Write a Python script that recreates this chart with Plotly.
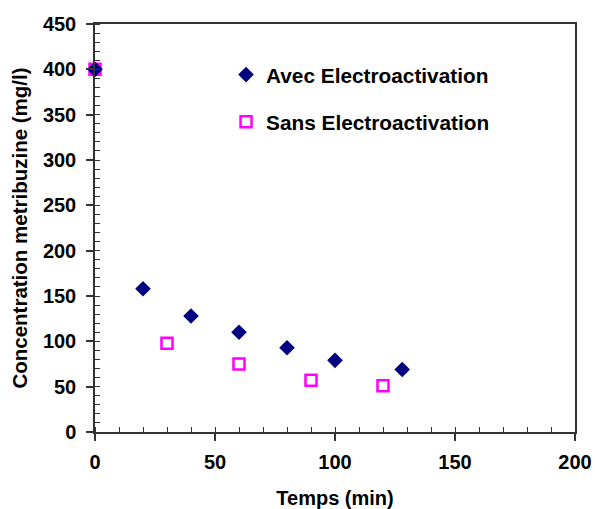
import plotly.graph_objects as go

avec_x = [0, 20, 40, 60, 80, 100, 128]
avec_y = [400, 158, 128, 110, 93, 79, 69]
sans_x = [0, 30, 60, 90, 120]
sans_y = [400, 98, 75, 57, 51]

names = ["Avec Electroactivation", "Sans Electroactivation"]
x_title = "Temps (min)"
y_title = "Concentration metribuzine (mg/l)"

FONT = "Liberation Sans, Arial, sans-serif"

fig = go.Figure()
fig.add_trace(go.Scatter(
    x=sans_x, y=sans_y, mode="markers", name=names[1], legendgroup="b", legendrank=2,
    cliponaxis=False,
    marker=dict(symbol="square-open", size=11, color="#FF00FF", line=dict(width=2.5, color="#FF00FF")),
))
fig.add_trace(go.Scatter(
    x=avec_x, y=avec_y, mode="markers", name=names[0], legendgroup="a", legendrank=1,
    cliponaxis=False,
    marker=dict(symbol="diamond", size=12, color="#000080"),
))

axis_common = dict(
    showgrid=False, zeroline=False, showline=True, linecolor="#333333", linewidth=1.5,
    mirror=True, ticks="outside", ticklen=7, tickwidth=1.5, tickcolor="#333333",
    automargin=False,
    tickfont=dict(family=FONT, size=20, color="black", weight="bold"),
)

fig.update_xaxes(
    range=[0, 200], dtick=50, **axis_common, ticklabelstandoff=4,
    minor=dict(ticks="inside", dtick=10, ticklen=5, tickcolor="#333333", tickwidth=1),
    title=dict(text="<b>" + x_title + "</b>", font=dict(family=FONT, size=20, color="black"), standoff=20),
)
fig.update_yaxes(
    range=[0, 450], dtick=50, **axis_common, ticklabelstandoff=6,
    minor=dict(ticks="inside", dtick=10, ticklen=5, tickcolor="#333333", tickwidth=1),
    title=dict(text="<b>" + y_title + "</b>", font=dict(family=FONT, size=20.5, color="black"), standoff=10),
)

fig.update_layout(
    width=595, height=509,
    margin=dict(l=95, r=20, t=24, b=77),
    paper_bgcolor="white", plot_bgcolor="white",
    legend=dict(
        x=0.273, y=0.925, xanchor="left", yanchor="top",
        traceorder="grouped", tracegroupgap=17,
        font=dict(family=FONT, size=20.8, color="black", weight="bold"),
        bgcolor="rgba(0,0,0,0)", itemwidth=30,
    ),
    showlegend=True,
)

fig.write_html("out.html")
